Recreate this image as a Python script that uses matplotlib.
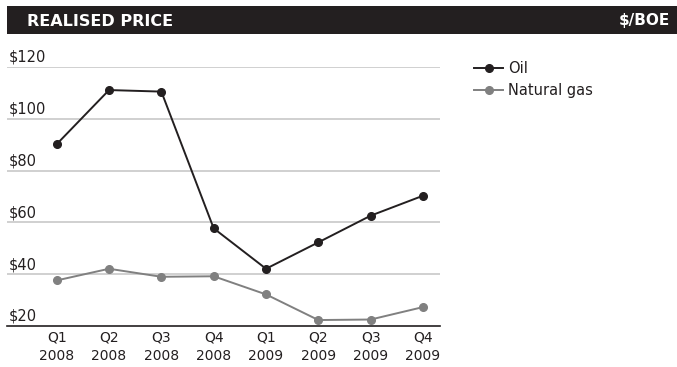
import matplotlib
matplotlib.use('Agg')
import matplotlib.pyplot as plt
from matplotlib.patches import Rectangle
from matplotlib.transforms import blended_transform_factory

plt.rcParams['font.family'] = ['DejaVu Sans']

# Precio realizado por trimestre ($/BOE)
quarters = ['Q1', 'Q2', 'Q3', 'Q4', 'Q1', 'Q2', 'Q3', 'Q4']
years = ['2008', '2008', '2008', '2008', '2009', '2009', '2009', '2009']
oil = [90.2, 111.1, 110.5, 57.7, 42.1, 52.3, 62.6, 70.3]
natural_gas = [37.6, 42.1, 39.0, 39.2, 32.2, 22.3, 22.5, 27.3]
y_ticks = [20, 40, 60, 80, 100, 120]

W, H = 677, 367
fig = plt.figure(figsize=(W / 100, H / 100), dpi=100)

# barra negra del titulo
fig.patches.append(Rectangle((7 / W, 1 - 34 / H), 1, 28 / H, transform=fig.transFigure,
                             facecolor='#231f20', edgecolor='none'))
fig.text(27 / W, 1 - 21 / H, 'REALISED PRICE', color='white', fontsize=11.5,
         fontweight='bold', va='center', ha='left')
fig.text(670 / W, 1 - 21 / H, '$/BOE', color='white', fontsize=11,
         fontweight='bold', va='center', ha='right')

ax = fig.add_axes([7 / W, 41 / H, 433 / W, 259 / H])
x = list(range(len(quarters)))

for v in y_ticks[1:]:
    ax.axhline(v, color='#c8c8c8', lw=1.2, zorder=1)

ax.plot(x, natural_gas, color='#808080', lw=1.4, marker='o', ms=5.5, label='Natural gas', zorder=3)
ax.plot(x, oil, color='#231f20', lw=1.4, marker='o', ms=5.5, label='Oil', zorder=4)

ax.set_xlim(-0.95, 7.325)
ax.set_ylim(20, 120)

for s in ['top', 'left', 'right']:
    ax.spines[s].set_visible(False)
ax.spines['bottom'].set_color('#231f20')
ax.spines['bottom'].set_linewidth(1.2)

ax.set_yticks([])
trans = blended_transform_factory(ax.transAxes, ax.transData)
for v in y_ticks:
    ax.text(0.003, v + 0.8, f'${v}', transform=trans, ha='left', va='bottom',
            fontsize=10.5, color='#231f20')

ax.set_xticks(x)
ax.set_xticklabels([f'{q}\n{y}' for q, y in zip(quarters, years)], fontsize=10,
                   color='#231f20', linespacing=1.45)
ax.tick_params(axis='x', length=0, pad=3)

handles, labels = ax.get_legend_handles_labels()
fig.legend(handles[::-1], labels[::-1], loc='upper left', bbox_to_anchor=(461 / W, 1 - 48 / H),
           frameon=False, fontsize=10.5, handlelength=2.0, handletextpad=0.3,
           labelspacing=0.45, labelcolor='#231f20')

plt.savefig('out.png', dpi=100)
